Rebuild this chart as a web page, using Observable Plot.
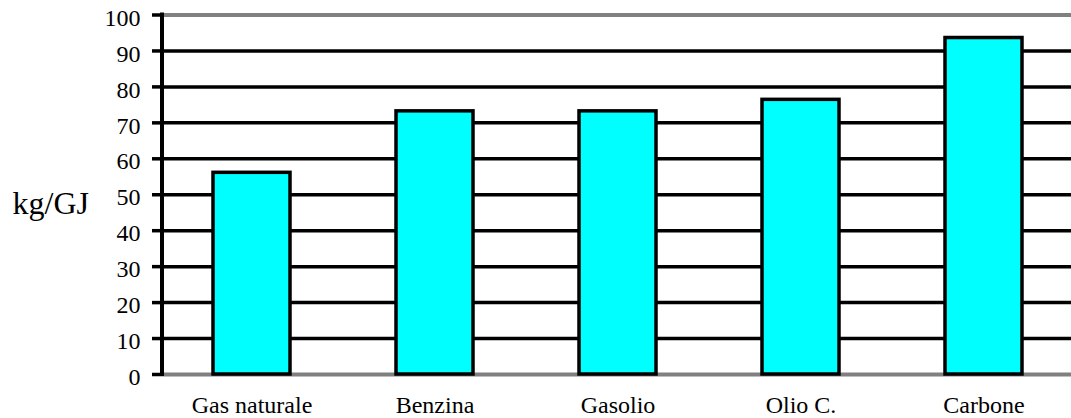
<!DOCTYPE html>
<html>
<head>
<meta charset="utf-8">
<script src="https://cdn.jsdelivr.net/npm/d3@7"></script>
<script src="https://cdn.jsdelivr.net/npm/@observablehq/plot@0.6"></script>
<style>
  html, body { margin: 0; padding: 0; background: #fff; }
  #chart svg { display: block; }
  #chart svg text { font-family: "Liberation Serif", "Times New Roman", serif; }
</style>
</head>
<body>
<div id="chart"></div>
<script>
// CO2 emission factors by fuel (kg/GJ)
const fuels = ["Gas naturale", "Benzina", "Gasolio", "Olio C.", "Carbone"];
const values = [56.1, 73.2, 73.2, 76.4, 93.6];
const yTicks = [0, 10, 20, 30, 40, 50, 60, 70, 80, 90, 100];
const yLabel = "kg/GJ";

const data = fuels.map((fuel, i) => ({fuel, value: values[i]}));
const innerTicks = yTicks.filter(t => t > 0 && t < 100);
const serif = "Liberation Serif, Times New Roman, serif";

const chart = Plot.plot({
  width: 1071,
  height: 418,
  marginLeft: 162,
  marginRight: 0,
  marginTop: 14.5,
  marginBottom: 44,
  style: {background: "#fff", overflow: "visible", color: "black"},
  x: {domain: fuels, range: [160, 1075], paddingInner: 0.579, paddingOuter: 0.2895},
  y: {domain: [0, 100]},
  marks: [
    // horizontal gridlines
    Plot.ruleY(innerTicks, {stroke: "black", strokeWidth: 3.5}),
    Plot.ruleY([0, 100], {stroke: "#808080", strokeWidth: 4}),
    // bars
    Plot.barY(data, {x: "fuel", y: "value", fill: "#00FFFF", stroke: "black", strokeWidth: 3.5}),
    // y axis: tick marks, then labels nudged down a little
    Plot.axisY({ticks: yTicks, tickSize: 10, tickFormat: () => "", strokeWidth: 3.5, label: null}),
    Plot.axisY({ticks: yTicks, tickSize: 0, tickPadding: 22, fontSize: 24, dy: 3, fill: "black", label: null}),
    // x axis labels
    Plot.axisX({tickSize: 0, tickPadding: 21, fontSize: 24, fill: "black", label: null}),
    Plot.text([yLabel], {frameAnchor: "left", dx: -150, dy: 8.5, textAnchor: "start", fontSize: 32, fill: "black"})
  ]
});

const svg = d3.select(chart);
svg.attr("font-family", serif);

// vertical axis line along the left edge of the plot area
svg.append("line")
  .attr("x1", 162).attr("x2", 162)
  .attr("y1", 12.5).attr("y2", 376)
  .attr("stroke", "black").attr("stroke-width", 4);

document.getElementById("chart").appendChild(chart);
</script>
</body>
</html>
